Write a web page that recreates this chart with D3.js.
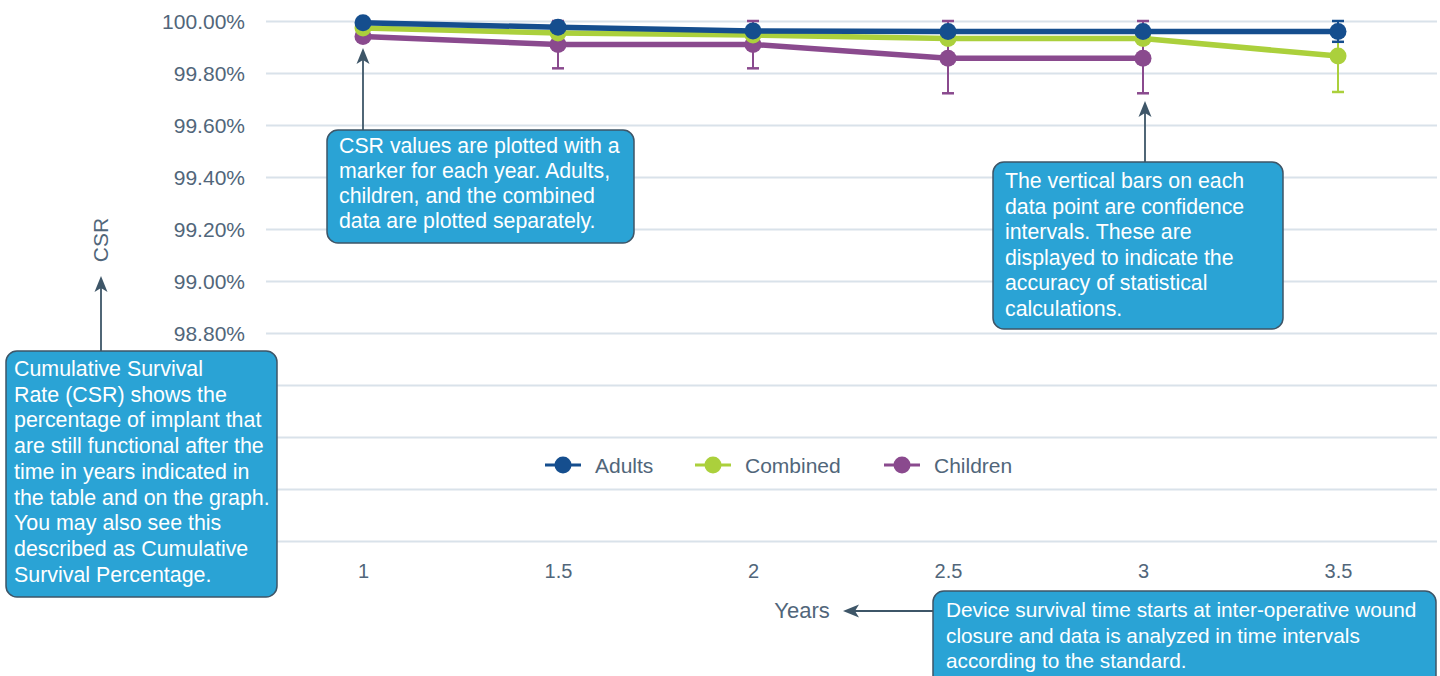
<!DOCTYPE html>
<html><head><meta charset="utf-8">
<script src="https://cdn.jsdelivr.net/npm/d3@7"></script>
<style>
html,body{margin:0;padding:0;background:#fff;}
svg{display:block;font-family:"Liberation Sans",Arial,Helvetica,sans-serif;}
</style></head>
<body>
<svg id="chart" width="1440" height="676"></svg>
<script>
// ---- data ----
const years = [1, 1.5, 2, 2.5, 3, 3.5];
const xTickLabels = ["1", "1.5", "2", "2.5", "3", "3.5"];
const yTickValues = [98.0, 98.2, 98.4, 98.6, 98.8, 99.0, 99.2, 99.4, 99.6, 99.8, 100.0];
const yTickLabels = ["", "", "", "", "98.80%", "99.00%", "99.20%", "99.40%", "99.60%", "99.80%", "100.00%"];
const seriesNames = ["Adults", "Combined", "Children"];
const adults   = [99.993, 99.976, 99.962, 99.960, 99.960, 99.960];
const combined = [99.973, 99.954, 99.946, 99.933, 99.933, 99.865];
const children = [99.940, 99.910, 99.910, 99.857, 99.857, null];
const adultsLow    = [null, null, null, null, null, 99.920];
const adultsHigh   = [null, null, null, null, null, 100.0];
const combinedLow  = [null, null, null, null, null, 99.727];
const combinedHigh = [null, null, null, null, null, 99.960];
const childrenLow  = [null, 99.818, 99.818, 99.722, 99.722, null];
const childrenHigh = [null, 100.0, 100.0, 100.0, 100.0, null];
const notes = [
  ["Cumulative Survival", "Rate (CSR) shows the", "percentage of implant that", "are still functional after the", "time in years indicated in", "the table and on the graph.", "You may also see this", "described as Cumulative", "Survival Percentage."],
  ["CSR values are plotted with a", "marker for each year. Adults,", "children, and the combined", "data are plotted separately."],
  ["The vertical bars on each", "data point are confidence", "intervals. These are", "displayed to indicate the", "accuracy of statistical", "calculations."],
  ["Device survival time starts at inter-operative wound", "closure and data is analyzed in time intervals", "according to the standard."]
];

// ---- styles ----
const colors = {Adults: "#154e8e", Combined: "#abd03c", Children: "#8a4a8e"};
const textColor = "#51667a";
const gridColor = "#d9e2ea";
const boxFill = "#2aa3d5";
const boxStroke = "#3e5567";
const arrowColor = "#3e5668";

const svg = d3.select("#chart");
const x = d3.scaleLinear().domain([0.75, 3.75]).range([265.5, 1435.5]);
const y = d3.scaleLinear().domain([98.0, 100.0]).range([541, 21]);

// grid
const yAxis = d3.axisLeft(y).tickValues(yTickValues).tickSize(-(1437 - 266)).tickPadding(21)
  .tickFormat((d, i) => yTickLabels[i]);
const gy = svg.append("g").attr("transform", "translate(266,0)").call(yAxis);
gy.select(".domain").remove();
gy.selectAll(".tick line").attr("stroke", gridColor).attr("stroke-width", 2);
gy.selectAll(".tick text").attr("fill", textColor).style("font-size", "21px")
  .style("font-family", '"Liberation Sans",Arial,sans-serif').attr("dy", "0.36em");
gy.selectAll(".tick text").filter(function() { return this.textContent === ""; }).remove();

// x axis labels
const xAxis = d3.axisBottom(x).tickValues(years).tickSize(0).tickPadding(0)
  .tickFormat((d, i) => xTickLabels[i]);
const gx = svg.append("g").attr("transform", "translate(0,560)").call(xAxis);
gx.select(".domain").remove();
gx.selectAll(".tick text").attr("fill", textColor).style("font-size", "20px")
  .style("font-family", '"Liberation Sans",Arial,sans-serif').attr("dy", "0.9em");

// series
const series = [
  {name: "Children", vals: children, lo: childrenLow, hi: childrenHigh},
  {name: "Combined", vals: combined, lo: combinedLow, hi: combinedHigh},
  {name: "Adults", vals: adults, lo: adultsLow, hi: adultsHigh}
];
const line = d3.line().defined(d => d.v != null).x(d => x(d.x)).y(d => y(d.v));
series.forEach(s => {
  const pts = years.map((yr, i) => ({x: yr, v: s.vals[i], lo: s.lo[i], hi: s.hi[i]}));
  const g = svg.append("g");
  const c = colors[s.name];
  const eb = pts.filter(p => p.lo != null && p.v != null);
  g.selectAll(".eb").data(eb).enter().append("line")
    .attr("x1", d => x(d.x)).attr("x2", d => x(d.x))
    .attr("y1", d => y(d.lo)).attr("y2", d => y(d.hi))
    .attr("stroke", c).attr("stroke-width", 2);
  ["lo", "hi"].forEach(k => {
    g.selectAll(".cap" + k).data(eb).enter().append("line")
      .attr("x1", d => x(d.x) - 6).attr("x2", d => x(d.x) + 6)
      .attr("y1", d => y(d[k])).attr("y2", d => y(d[k]))
      .attr("stroke", c).attr("stroke-width", 2.5);
  });
  g.append("path").datum(pts).attr("d", line).attr("fill", "none")
    .attr("stroke", c).attr("stroke-width", 5.5);
  g.selectAll("circle").data(pts.filter(p => p.v != null)).enter().append("circle")
    .attr("cx", d => x(d.x)).attr("cy", d => y(d.v)).attr("r", 8.5).attr("fill", c);
});

// legend
const legX = [545, 695, 884];
const lg = svg.append("g");
seriesNames.forEach((n, i) => {
  const gx0 = legX[i];
  lg.append("line").attr("x1", gx0).attr("x2", gx0 + 36).attr("y1", 465).attr("y2", 465)
    .attr("stroke", colors[n]).attr("stroke-width", 3);
  lg.append("circle").attr("cx", gx0 + 18).attr("cy", 465).attr("r", 8.5).attr("fill", colors[n]);
  lg.append("text").attr("x", gx0 + 50).attr("y", 465).attr("dy", "0.36em")
    .attr("fill", textColor).style("font-size", "21px").text(n);
});

// axis titles
svg.append("text").attr("transform", "translate(108,240) rotate(-90)")
  .attr("text-anchor", "middle").attr("fill", textColor).style("font-size", "21px").text("CSR");
svg.append("text").attr("x", 802).attr("y", 618).attr("text-anchor", "middle")
  .attr("fill", textColor).style("font-size", "22px").text("Years");

// arrows
function arrow(x1, y1, x2, y2) {
  const ang = Math.atan2(y2 - y1, x2 - x1);
  const L = 16, W = 6.5;
  const bx = x2 - L * Math.cos(ang), by = y2 - L * Math.sin(ang);
  svg.append("line").attr("x1", x1).attr("y1", y1).attr("x2", bx + 4 * Math.cos(ang)).attr("y2", by + 4 * Math.sin(ang))
    .attr("stroke", arrowColor).attr("stroke-width", 1.8);
  const px = -Math.sin(ang), py = Math.cos(ang);
  svg.append("path").attr("d", `M${x2},${y2}L${bx + W * px},${by + W * py}L${bx + 4 * Math.cos(ang)},${by + 4 * Math.sin(ang)}L${bx - W * px},${by - W * py}Z`)
    .attr("fill", arrowColor);
}
arrow(101, 352, 101, 276);
arrow(363, 131, 363, 48);
arrow(1145, 163, 1145, 101);
arrow(934, 611, 843, 611);

// note boxes
const boxes = [
  {x: 6, y: 351, w: 271, h: 246, tx: 14, ty: 376, lh: 25.7, fs: 21.4},
  {x: 327, y: 130, w: 307, h: 113, tx: 339, ty: 153, lh: 25, fs: 21.3},
  {x: 993, y: 162, w: 290, h: 167, tx: 1005, ty: 188, lh: 25.5, fs: 21.3},
  {x: 933, y: 591, w: 503, h: 110, tx: 946, ty: 617, lh: 25.5, fs: 20.8}
];
boxes.forEach((b, i) => {
  svg.append("rect").attr("x", b.x).attr("y", b.y).attr("width", b.w).attr("height", b.h)
    .attr("rx", 11).attr("fill", boxFill).attr("stroke", boxStroke).attr("stroke-width", 1.5);
  const t = svg.append("text").attr("fill", "#ffffff").style("font-size", b.fs + "px");
  notes[i].forEach((ln, j) => {
    t.append("tspan").attr("x", b.tx).attr("y", b.ty + j * b.lh).text(ln);
  });
});
</script>
</body></html>
